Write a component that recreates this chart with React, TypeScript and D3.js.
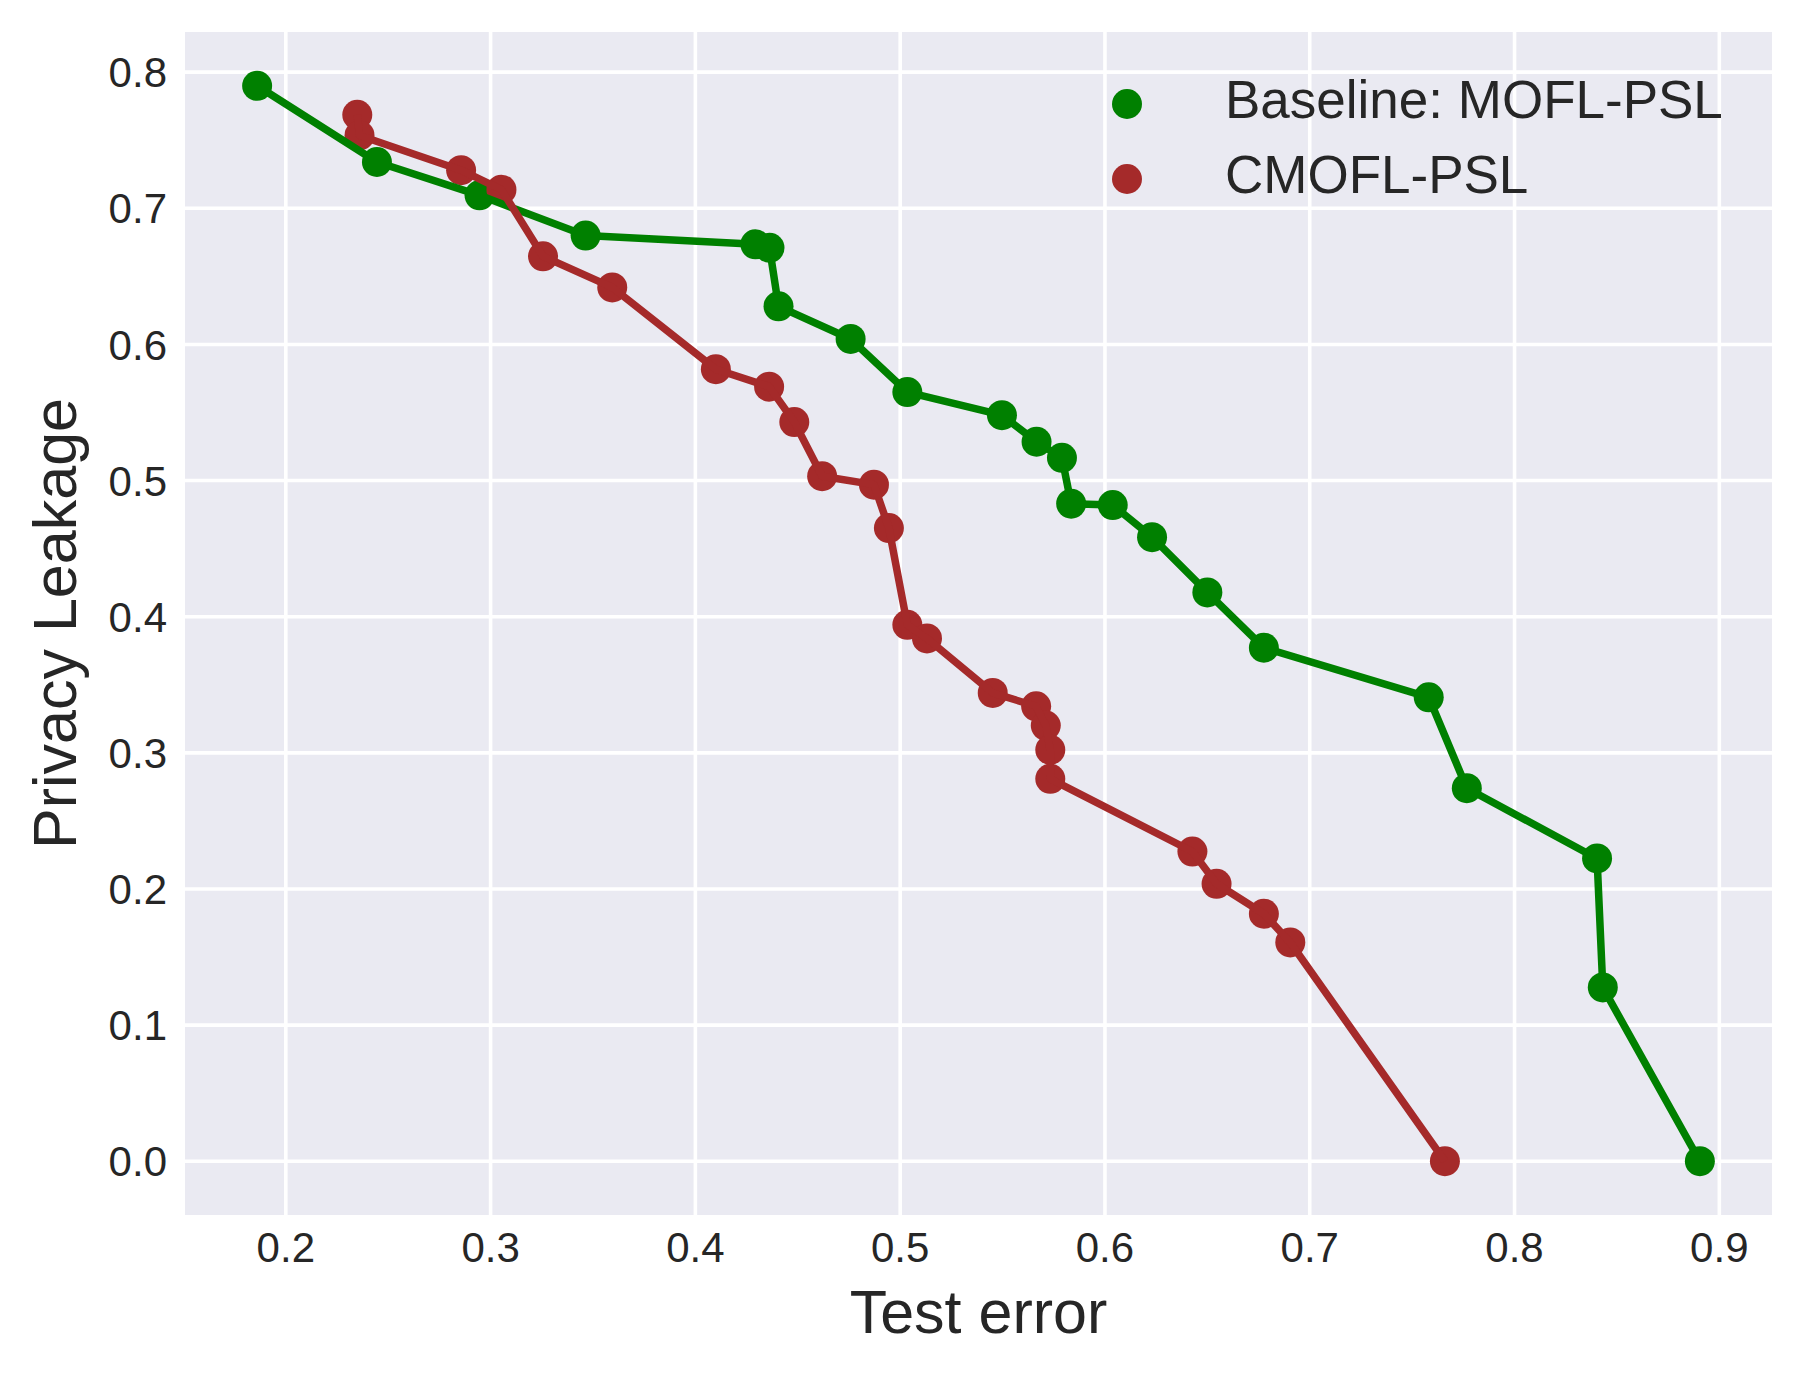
import React from 'react';
import * as d3 from 'd3';

// Baseline: MOFL-PSL
const baselineError = [0.186, 0.2445, 0.2946, 0.3464, 0.4293, 0.4362, 0.4406, 0.4758, 0.5035, 0.5497, 0.5666, 0.579, 0.5835, 0.6038, 0.623, 0.650, 0.6776, 0.7581, 0.7767, 0.8403, 0.8431, 0.8905];
const baselineLeak = [0.790, 0.734, 0.7095, 0.680, 0.6735, 0.671, 0.628, 0.604, 0.565, 0.548, 0.5285, 0.5167, 0.483, 0.482, 0.4584, 0.4178, 0.3772, 0.3408, 0.274, 0.2224, 0.1277, 0.0];

// CMOFL-PSL
const cmoflError = [0.2349, 0.236, 0.2856, 0.3053, 0.3256, 0.3594, 0.410, 0.436, 0.4483, 0.4619, 0.4872, 0.4945, 0.5035, 0.5131, 0.5452, 0.5664, 0.5711, 0.5733, 0.5733, 0.6427, 0.6545, 0.6776, 0.6905, 0.766];
const cmoflLeak = [0.7687, 0.7535, 0.728, 0.7137, 0.6647, 0.6419, 0.5818, 0.569, 0.543, 0.5032, 0.497, 0.4651, 0.394, 0.384, 0.344, 0.3342, 0.32, 0.3022, 0.2809, 0.2275, 0.2038, 0.1818, 0.1607, 0.0];

const xTicks = [0.2, 0.3, 0.4, 0.5, 0.6, 0.7, 0.8, 0.9];
const yTicks = [0.0, 0.1, 0.2, 0.3, 0.4, 0.5, 0.6, 0.7, 0.8];

const seriesNames = ['Baseline: MOFL-PSL', 'CMOFL-PSL'];
const seriesColors = ['#008000', '#a52a2a'];

const width = 1804;
const height = 1377;
const margin = { top: 32, right: 32, bottom: 162, left: 185 };
const font = '"Liberation Sans", Arial, sans-serif';
const textColor = '#262626';

// matplotlib-style 5% autoscale margin
const padded = (vals: number[]): [number, number] => {
    const [lo, hi] = d3.extent(vals) as [number, number];
    const m = (hi - lo) * 0.05;
    return [lo - m, hi + m];
};

export default function App() {
    const innerW = width - margin.left - margin.right;
    const innerH = height - margin.top - margin.bottom;

    const x = d3.scaleLinear()
        .domain(padded([...baselineError, ...cmoflError]))
        .range([0, innerW]);
    const y = d3.scaleLinear()
        .domain(padded([...baselineLeak, ...cmoflLeak]))
        .range([innerH, 0]);

    const series = [
        { xs: baselineError, ys: baselineLeak },
        { xs: cmoflError, ys: cmoflLeak },
    ].map((s, i) => ({
        name: seriesNames[i],
        color: seriesColors[i],
        points: s.xs.map((v, j) => [v, s.ys[j]] as [number, number]),
    }));

    const line = d3.line<[number, number]>()
        .x(d => x(d[0]))
        .y(d => y(d[1]));

    return (
        <div style={{ position: 'absolute', left: 0, top: 0 }}>
            <svg width={width} height={height} viewBox={`0 0 ${width} ${height}`} style={{ display: 'block', background: '#fff' }}>
                <g transform={`translate(${margin.left},${margin.top})`}>
                    <rect width={innerW} height={innerH} fill="#eaeaf2" />

                    {/* grid */}
                    {xTicks.map(t => (
                        <line key={'gx' + t} x1={x(t)} x2={x(t)} y1={0} y2={innerH} stroke="#fff" strokeWidth={3.6} />
                    ))}
                    {yTicks.map(t => (
                        <line key={'gy' + t} x1={0} x2={innerW} y1={y(t)} y2={y(t)} stroke="#fff" strokeWidth={3.6} />
                    ))}

                    {/* markers first, lines on top (scatter + plot) */}
                    {series.map(s => (
                        <g key={'m' + s.name} fill={s.color}>
                            {s.points.map((p, j) => (
                                <circle key={j} cx={x(p[0])} cy={y(p[1])} r={15} />
                            ))}
                        </g>
                    ))}
                    {series.map(s => (
                        <path key={'l' + s.name} d={line(s.points) || ''} fill="none" stroke={s.color} strokeWidth={7.5} strokeLinejoin="round" />
                    ))}

                    {/* tick labels */}
                    {xTicks.map(t => (
                        <text key={'tx' + t} x={x(t)} y={innerH + 47} textAnchor="middle" fontSize={42} fontFamily={font} fill={textColor}>
                            {d3.format('.1f')(t)}
                        </text>
                    ))}
                    {yTicks.map(t => (
                        <text key={'ty' + t} x={-18} y={y(t)} dy="0.36em" textAnchor="end" fontSize={42} fontFamily={font} fill={textColor}>
                            {d3.format('.1f')(t)}
                        </text>
                    ))}

                    {/* legend */}
                    {series.map((s, i) => (
                        <g key={'lg' + s.name} transform={`translate(${1127 - margin.left},${104 - margin.top + i * 75})`}>
                            <circle r={15} fill={s.color} />
                            <text x={98} y={14} fontSize={53} fontFamily={font} fill={textColor}>{s.name}</text>
                        </g>
                    ))}
                </g>

                {/* axis titles */}
                <text x={margin.left + innerW / 2} y={1333} textAnchor="middle" fontSize={61} fontFamily={font} fill={textColor}>
                    Test error
                </text>
                <text transform={`translate(76,${margin.top + innerH / 2}) rotate(-90)`} textAnchor="middle" fontSize={61} fontFamily={font} fill={textColor}>
                    Privacy Leakage
                </text>
            </svg>
        </div>
    );
}
